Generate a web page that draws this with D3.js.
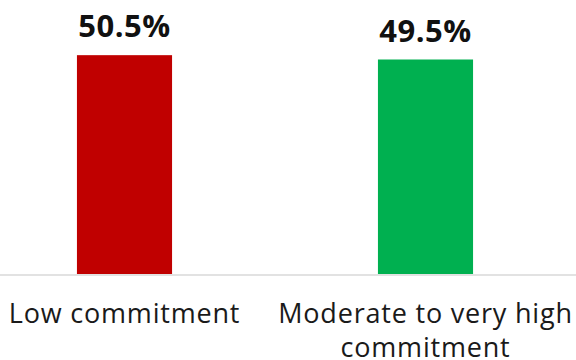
<!DOCTYPE html>
<html>
<head>
<meta charset="utf-8">
<script src="https://cdn.jsdelivr.net/npm/d3@7"></script>
<style>
  html, body { margin: 0; padding: 0; background: #fff; }
  svg { display: block; }
  .value { font-family: "Open Sans", sans-serif; font-weight: 700; font-size: 31px; letter-spacing: 0.5px; fill: #111; }
  .cat text { font-family: "Open Sans", sans-serif; font-weight: 400; font-size: 27px; letter-spacing: 0.8px; fill: #1a1a1a; }
</style>
</head>
<body>
<svg id="chart" width="576" height="360"></svg>
<script>
// Share of respondents by commitment level
const categories = ["Low commitment", "Moderate to very high commitment"];
const tickLines = [["Low commitment"], ["Moderate to very high", "commitment"]];
const values = [50.5, 49.5];
const colors = ["#C00000", "#00B050"];

const W = 576, H = 360;
const svg = d3.select("#chart");

const x = d3.scaleBand()
  .domain(categories)
  .range([-26, 576])
  .paddingInner(0.684)
  .paddingOuter(0.342);

const y = d3.scaleLinear()
  .domain([0, 60])
  .range([274, 14]);

// bars
svg.selectAll("rect.bar")
  .data(values)
  .join("rect")
  .attr("class", "bar")
  .attr("x", (d, i) => x(categories[i]))
  .attr("width", x.bandwidth())
  .attr("y", d => y(d))
  .attr("height", d => y(0) - y(d))
  .attr("fill", (d, i) => colors[i]);

// value labels
svg.selectAll("text.value")
  .data(values)
  .join("text")
  .attr("class", "value")
  .attr("x", (d, i) => x(categories[i]) + x.bandwidth() / 2)
  .attr("y", d => y(d) - 18)
  .attr("text-anchor", "middle")
  .text(d => d.toFixed(1) + "%");

// category axis
const axis = svg.append("g")
  .attr("class", "cat")
  .attr("transform", `translate(0,${y(0) + 1})`)
  .call(d3.axisBottom(x).tickSize(0).tickPadding(0));

axis.select(".domain").remove();
axis.append("line")
  .attr("x1", 0).attr("x2", W)
  .attr("y1", 0).attr("y2", 0)
  .attr("stroke", "#d9d9d9")
  .attr("stroke-width", 1.5);

axis.selectAll(".tick text").each(function(d, i) {
  const t = d3.select(this).text(null).attr("y", 0).attr("dy", null);
  tickLines[i].forEach((line, k) => {
    t.append("tspan")
      .attr("x", 0)
      .attr("y", 48 + k * 34)
      .text(line);
  });
});
</script>
</body>
</html>
